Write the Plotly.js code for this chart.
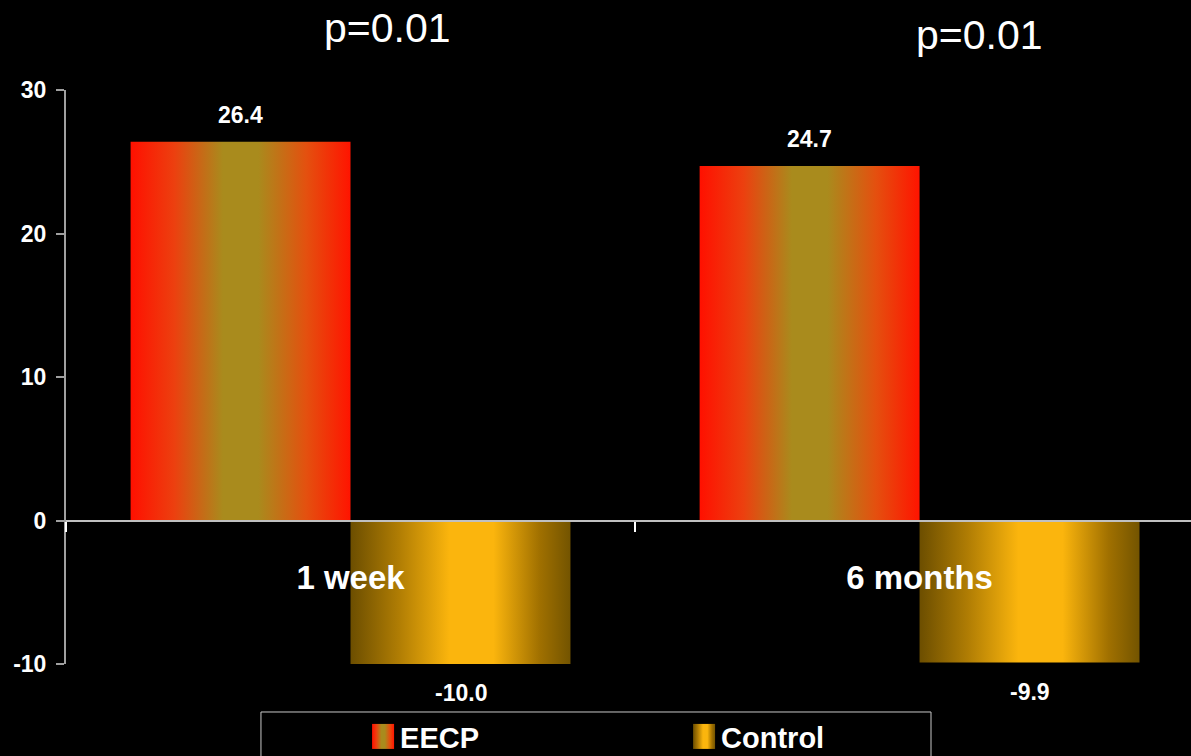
<!DOCTYPE html>
<html>
<head>
<meta charset="utf-8">
<script src="https://cdn.plot.ly/plotly-3.0.1.min.js"></script>
<style>
  html, body { margin: 0; padding: 0; background: #000; }
  #chart { width: 1191px; height: 756px; }
</style>
</head>
<body>
<div id="chart"></div>
<script>
// Change from baseline, EECP vs control
const categories = ['1 week', '6 months'];
const eecpValues = [26.4, 24.7];
const controlValues = [-10.0, -9.9];
const seriesNames = ['EECP', 'Control'];
const pLabels = ['p=0.01', 'p=0.01'];
const yTickValues = [-10, 0, 10, 20, 30];
const yTickText = ['-10', '0', '10', '20', '30'];

const labelFont = { family: 'Liberation Sans, Arial, sans-serif', color: '#ffffff' };

const traces = [
  {
    type: 'bar', name: seriesNames[0], x: categories, y: eecpValues,
    marker: { color: '#d0541a', line: { width: 0 } }, hoverinfo: 'skip'
  },
  {
    type: 'bar', name: seriesNames[1], x: categories, y: controlValues,
    marker: { color: '#c9960c', line: { width: 0 } }, hoverinfo: 'skip'
  }
];

// value labels above positive bars and below negative ones
const halfBar = 110;
const annotations = [];
[eecpValues, controlValues].forEach((vals, s) => {
  vals.forEach((v, i) => {
    annotations.push({
      x: categories[i], y: v, xref: 'x', yref: 'y',
      xshift: s === 0 ? -halfBar : halfBar,
      yshift: v >= 0 ? 27 : -29,
      xanchor: 'center', yanchor: 'middle',
      text: '<b>' + v.toFixed(1) + '</b>',
      showarrow: false,
      font: Object.assign({ size: 23 }, labelFont)
    });
  });
});
// significance notes over each group
const pPos = [[0.286, 1.108], [0.8124, 1.096]];
pLabels.forEach((t, i) => {
  annotations.push({
    x: pPos[i][0], y: pPos[i][1], xref: 'paper', yref: 'paper',
    text: t, showarrow: false, xanchor: 'center', yanchor: 'middle',
    font: { family: 'Liberation Sans, Arial, sans-serif', size: 41, color: '#ffffff' }
  });
});

const layout = {
  width: 1191, height: 756,
  paper_bgcolor: '#000000', plot_bgcolor: '#000000',
  margin: { l: 66, r: 0, t: 90, b: 92, autoexpand: false },
  barmode: 'group', bargap: 0.227, bargroupgap: 0,
  showlegend: true,
  legend: {
    orientation: 'h', x: 0.2614, y: -0.082, xanchor: 'left', yanchor: 'top',
    bgcolor: 'rgba(0,0,0,0)', borderwidth: 0,
    entrywidth: 276, entrywidthmode: 'pixels',
    font: { family: 'Liberation Sans, Arial, sans-serif', size: 29, color: '#ffffff', weight: 'bold' }
  },
  xaxis: {
    type: 'category', range: [-0.5, 1.477],
    anchor: 'free', position: 0.25,
    showline: true, linecolor: '#c0c0c0', linewidth: 2,
    ticks: 'outside', tickson: 'boundaries', ticklen: 10, tickwidth: 2, tickcolor: '#ffffff',
    ticklabelstandoff: 28,
    tickfont: { family: 'Liberation Sans, Arial, sans-serif', size: 33, color: '#ffffff', weight: 'bold' },
    showgrid: false, zeroline: false, fixedrange: true
  },
  yaxis: {
    range: [-10, 30], tickmode: 'array', tickvals: yTickValues, ticktext: yTickText,
    showline: true, linecolor: '#a0a0a0', linewidth: 2,
    ticks: 'outside', ticklen: 8, tickwidth: 2, tickcolor: '#a0a0a0',
    ticklabelstandoff: 5,
    tickfont: { family: 'Liberation Sans, Arial, sans-serif', size: 23, color: '#ffffff', weight: 'bold' },
    showgrid: false, zeroline: false, fixedrange: true
  },
  annotations: annotations,
  shapes: [
    { type: 'rect', xref: 'paper', yref: 'paper',
      x0: 0.1733, x1: 0.7689, y0: -0.0836, y1: -0.3,
      line: { color: '#c8c8c8', width: 1 }, fillcolor: 'rgba(0,0,0,0)', layer: 'below' }
  ]
};

// horizontal shading used on each bar: EECP red-olive-red, control brown-gold-brown
const gradients = {
  gradEECP: [[0, '#ff1000'], [0.2, '#ec400f'], [0.42, '#a98b1d'], [0.58, '#a98b1d'], [0.8, '#e4500f'], [1, '#ff1400']],
  gradControl: [[0, '#6c4e00'], [0.22, '#b07d04'], [0.45, '#fbb50d'], [0.65, '#fbb50d'], [0.86, '#a07000'], [1, '#735400']]
};

function addGradients(gd) {
  const svgNS = 'http://www.w3.org/2000/svg';
  const defs = gd.querySelector('.main-svg defs');
  if (!defs) return;
  Object.keys(gradients).forEach(id => {
    if (defs.querySelector('#' + id)) return;
    const lg = document.createElementNS(svgNS, 'linearGradient');
    lg.setAttribute('id', id);
    lg.setAttribute('x1', '0'); lg.setAttribute('x2', '1');
    lg.setAttribute('y1', '0'); lg.setAttribute('y2', '0');
    gradients[id].forEach(([o, c]) => {
      const st = document.createElementNS(svgNS, 'stop');
      st.setAttribute('offset', o);
      st.setAttribute('stop-color', c);
      lg.appendChild(st);
    });
    defs.appendChild(lg);
  });
  const ids = ['gradEECP', 'gradControl'];
  gd.querySelectorAll('.barlayer .trace.bars').forEach((tr, i) => {
    tr.querySelectorAll('.point path').forEach(p => { p.style.fill = 'url(#' + ids[i] + ')'; });
  });
  gd.querySelectorAll('.legend .traces').forEach((tr, i) => {
    tr.querySelectorAll('.legendpoints path').forEach(p => {
      p.setAttribute('d', 'M-8,-12.5H14V12.5H-8Z');
      p.style.fill = 'url(#' + ids[i] + ')';
      p.style.stroke = 'none';
    });
  });
}

const gd = document.getElementById('chart');
Plotly.newPlot(gd, traces, layout, { displayModeBar: false, staticPlot: true }).then(() => {
  addGradients(gd);
  gd.on('plotly_afterplot', () => addGradients(gd));
});
</script>
</body>
</html>
